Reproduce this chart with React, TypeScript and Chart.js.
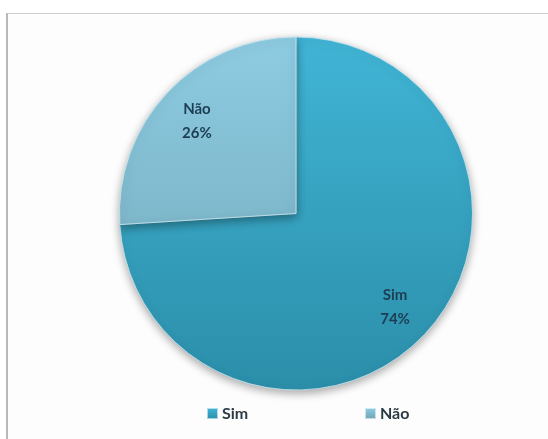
import React, { useEffect, useRef } from "react";
import { Chart, registerables } from "chart.js";

Chart.register(...registerables);

const categories = ["Sim", "Não"];
const values = [74, 26];
const valueLabels = ["74%", "26%"];

const topColors = ["#41b5d6", "#8ecce2"];
const bottomColors = ["#2b8ea9", "#6fa5b6"];
const legendColors = ["#3aa4c3", "#8fc3d3"];

const shadowPlugin = {
  id: "pieShadow",
  beforeDatasetsDraw(chart: any) {
    const ctx = chart.ctx;
    ctx.save();
    ctx.shadowColor = "rgba(0,0,0,0.35)";
    ctx.shadowBlur = 10;
    ctx.shadowOffsetX = 0;
    ctx.shadowOffsetY = 3;
  },
  afterDatasetsDraw(chart: any) {
    chart.ctx.restore();
  },
};

const labelPlugin = {
  id: "sliceLabels",
  afterDatasetsDraw(chart: any) {
    const ctx = chart.ctx;
    const meta = chart.getDatasetMeta(0);
    ctx.save();
    ctx.font = "bold 15px Lato, 'Open Sans', sans-serif";
    ctx.fillStyle = "#1d3d52";
    ctx.textAlign = "center";
    ctx.textBaseline = "middle";
    meta.data.forEach((arc: any, i: number) => {
      const p = arc.getProps(["x", "y", "startAngle", "endAngle", "outerRadius"], true);
      const mid = (p.startAngle + p.endAngle) / 2;
      const r = p.outerRadius * 0.77;
      const cx = p.x + Math.cos(mid) * r;
      const cy = p.y + Math.sin(mid) * r;
      ctx.fillText(categories[i], cx, cy - 11);
      ctx.fillText(valueLabels[i], cx, cy + 13);
    });
    ctx.restore();
  },
};

const legendPlugin = {
  id: "customLegend",
  afterDraw(chart: any) {
    const ctx = chart.ctx;
    const area = chart.chartArea;
    const cx = (area.left + area.right) / 2;
    const y = area.bottom + 22;
    const starts = [cx - 89, cx + 69];
    ctx.save();
    ctx.font = "bold 16px Lato, 'Open Sans', sans-serif";
    ctx.textBaseline = "middle";
    ctx.textAlign = "left";
    categories.forEach((c, i) => {
      const x = starts[i];
      const g = ctx.createLinearGradient(0, y - 5, 0, y + 6);
      g.addColorStop(0, topColors[i]);
      g.addColorStop(1, bottomColors[i]);
      ctx.fillStyle = g;
      ctx.fillRect(x, y - 5, 11, 11);
      ctx.strokeStyle = "rgba(255,255,255,0.6)";
      ctx.lineWidth = 1;
      ctx.strokeRect(x + 0.5, y - 4.5, 10, 10);
      ctx.fillStyle = "#2b3a45";
      ctx.fillText(c, x + 15, y + 1);
    });
    ctx.restore();
  },
};

export default function App() {
  const ref = useRef<HTMLCanvasElement | null>(null);

  useEffect(() => {
    if (!ref.current) return;
    const chart = new Chart(ref.current, {
      type: "pie",
      data: {
        labels: categories,
        datasets: [
          {
            data: values,
            backgroundColor: (c: any) => {
              const area = c.chart.chartArea;
              if (!area) return legendColors[c.dataIndex];
              const g = c.chart.ctx.createLinearGradient(0, area.top, 0, area.bottom);
              g.addColorStop(0, topColors[c.dataIndex]);
              g.addColorStop(1, bottomColors[c.dataIndex]);
              return g;
            },
            borderColor: "rgba(200,230,240,0.8)",
            borderWidth: 1,
          },
        ],
      },
      options: {
        animation: false,
        responsive: false,
        maintainAspectRatio: false,
        layout: { padding: { left: 119, right: 75, top: 36, bottom: 48 } },
        plugins: {
          legend: { display: false },
          tooltip: { enabled: false },
        },
      },
      plugins: [shadowPlugin, labelPlugin, legendPlugin],
    });
    return () => chart.destroy();
  }, []);

  return (
    <div
      style={{
        position: "fixed",
        left: 0,
        top: 0,
        width: 548,
        height: 439,
        background: "#ffffff",
        overflow: "hidden",
      }}
    >
      <div
        style={{
          position: "absolute",
          left: 6,
          top: 13,
          width: 600,
          height: 500,
          borderLeft: "2px solid #b8b8b8",
          borderTop: "1px solid #cfcfcf",
          background: "#fdfdfd",
        }}
      />
      <canvas
        ref={ref}
        width={548}
        height={439}
        style={{ position: "absolute", left: 0, top: 0, width: 548, height: 439 }}
      />
    </div>
  );
}
